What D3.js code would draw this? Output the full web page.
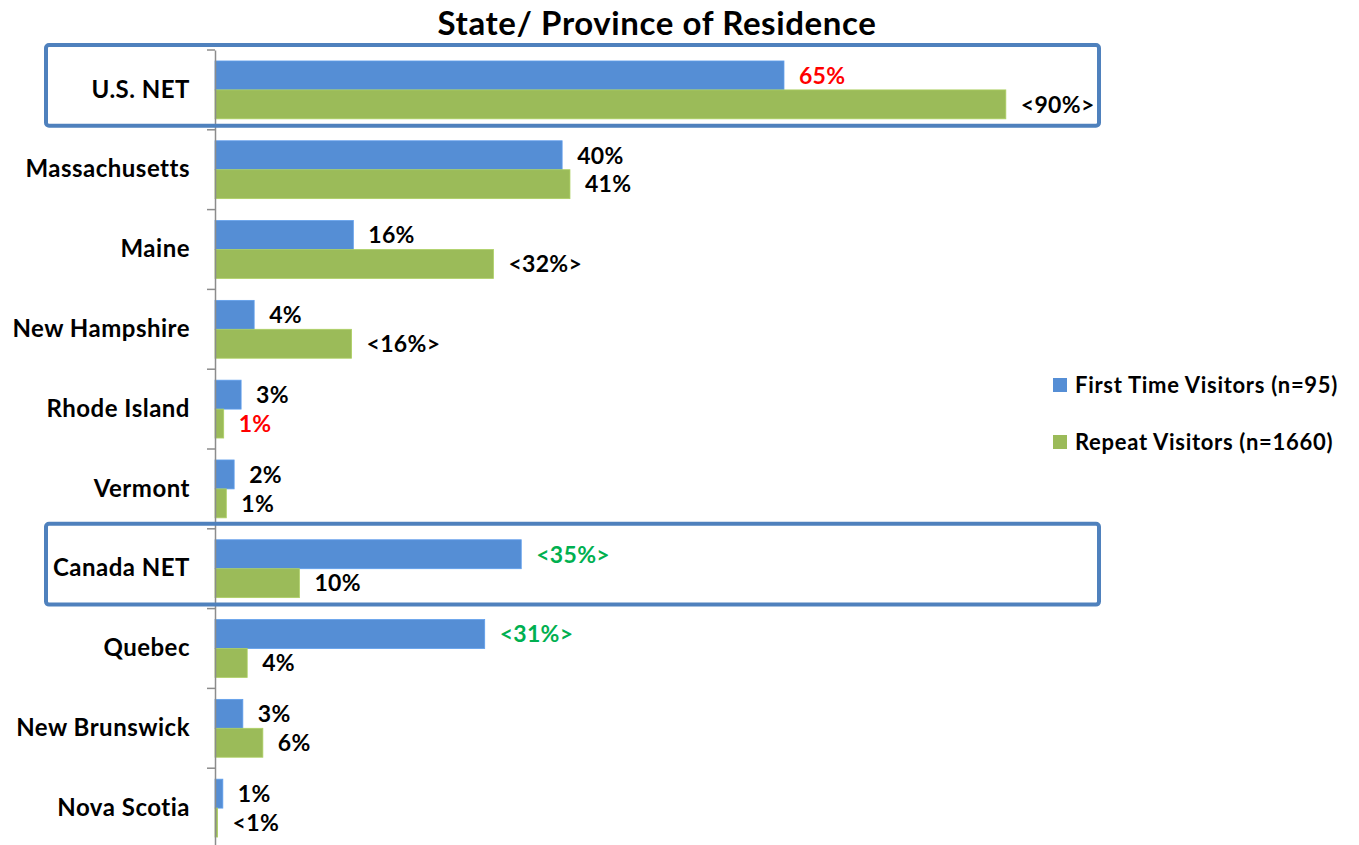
<!DOCTYPE html>
<html>
<head>
<meta charset="utf-8">
<script src="https://cdn.jsdelivr.net/npm/d3@7"></script>
<style>
    body { margin: 0; background: #fff; }
    text { font-family: Lato, "Open Sans", sans-serif; font-weight: bold; fill: #000; }
</style>
</head>
<body>
<script>
//Chart data
var categories = ['U.S. NET', 'Massachusetts', 'Maine', 'New Hampshire', 'Rhode Island',
    'Vermont', 'Canada NET', 'Quebec', 'New Brunswick', 'Nova Scotia'];
var firstTime = [65.4, 39.9, 15.9, 4.5, 3.0, 2.2, 35.2, 31.0, 3.2, 0.9];
var repeat = [90.9, 40.8, 32.0, 15.7, 1.0, 1.3, 9.7, 3.7, 5.5, 0.3];
var firstLabels = ['65%', '40%', '16%', '4%', '3%', '2%', '<35%>', '<31%>', '3%', '1%'];
var repeatLabels = ['<90%>', '41%', '<32%>', '<16%>', '1%', '1%', '10%', '4%', '6%', '<1%'];
//Significance flags: 'low' = significantly lower, 'high' = significantly higher
var firstFlags = ['low', '', '', '', '', '', 'high', 'high', '', ''];
var repeatFlags = ['', '', '', '', 'low', '', '', '', '', ''];
var netRows = ['U.S. NET', 'Canada NET'];
var seriesNames = ['First Time Visitors (n=95)', 'Repeat Visitors (n=1660)'];

function setChart(){
    var width = 1359,
        height = 845;
    var colors = ['#558ed5', '#9bbb59'];
    var flagColors = {low: '#ff0000', high: '#00b050', '': '#000'};

    var svg = d3.select('body')
        .append('svg')
        .attr('width', width)
        .attr('height', height);

    //Title
    svg.append('text')
        .attr('x', 657)
        .attr('y', 35)
        .attr('text-anchor', 'middle')
        .style('font-size', '33px')
        .style('letter-spacing', '0.6px')
        .text('State/ Province of Residence');

    //Scales
    var x = d3.scaleLinear()
        .domain([0, 100])
        .range([215, 1085]);
    var y = d3.scaleBand()
        .domain(categories)
        .range([50, 848])
        .paddingInner(0.275)
        .paddingOuter(0.1375);
    var ySeries = d3.scaleBand()
        .domain([0, 1])
        .range([0, y.bandwidth()]);

    //Build rows from the arrays
    var rows = categories.map(function(c, i){
        return {
            name: c,
            values: [
                {s: 0, v: firstTime[i], label: firstLabels[i], flag: firstFlags[i]},
                {s: 1, v: repeat[i], label: repeatLabels[i], flag: repeatFlags[i]}
            ]
        };
    });

    var groups = svg.selectAll('.row')
        .data(rows)
        .enter()
        .append('g')
        .attr('class', 'row')
        .attr('transform', function(d){ return 'translate(0,' + y(d.name) + ')'; });

    groups.selectAll('rect')
        .data(function(d){ return d.values; })
        .enter()
        .append('rect')
        .attr('x', x(0))
        .attr('y', function(d){ return ySeries(d.s); })
        .attr('width', function(d){ return x(d.v) - x(0); })
        .attr('height', ySeries.bandwidth())
        .attr('fill', function(d){ return colors[d.s]; })
        .attr('stroke', function(d){ return d3.color(colors[d.s]).brighter(0.3); })
        .attr('stroke-width', 0.8);

    groups.selectAll('.val')
        .data(function(d){ return d.values; })
        .enter()
        .append('text')
        .attr('class', 'val')
        .attr('x', function(d){ return x(d.v) + 15; })
        .attr('y', function(d){ return ySeries(d.s) + ySeries.bandwidth() / 2; })
        .attr('dy', '0.36em')
        .style('font-size', '23px')
        .style('letter-spacing', '0.3px')
        .style('fill', function(d){ return flagColors[d.flag]; })
        .text(function(d){ return d.label; });

    //Category axis
    var axis = svg.append('g')
        .attr('transform', 'translate(' + x(0) + ',0)')
        .call(d3.axisLeft(y).tickSize(0).tickPadding(25).tickSizeOuter(0));
    axis.select('.domain')
        .attr('stroke', '#8c8c8c')
        .attr('stroke-width', 1.5);
    axis.selectAll('.tick text')
        .style('font-size', '24px')
        .style('letter-spacing', '0.5px')
        .style('font-family', 'Lato, "Open Sans", sans-serif')
        .style('font-weight', 'bold')
        .attr('fill', '#000');

    //Boundary ticks between categories
    var bounds = d3.range(categories.length + 1).map(function(i){
        return y.range()[0] + i * y.step();
    });
    svg.selectAll('.btick')
        .data(bounds)
        .enter()
        .append('line')
        .attr('class', 'btick')
        .attr('x1', x(0) - 8)
        .attr('x2', x(0))
        .attr('y1', function(d){ return d; })
        .attr('y2', function(d){ return d; })
        .attr('stroke', '#8c8c8c')
        .attr('stroke-width', 1.5);

    //Highlight boxes around NET rows
    var pad = y.step() * y.paddingOuter();
    svg.selectAll('.netbox')
        .data(netRows)
        .enter()
        .append('rect')
        .attr('class', 'netbox')
        .attr('x', 46)
        .attr('y', function(d){ return y(d) - pad - 5; })
        .attr('width', 1099 - 46)
        .attr('height', y.step() + 1)
        .attr('rx', 3)
        .attr('fill', 'none')
        .attr('stroke', '#4f81bd')
        .attr('stroke-width', 4);

    //Legend
    var legend = svg.selectAll('.legend')
        .data(seriesNames)
        .enter()
        .append('g')
        .attr('class', 'legend')
        .attr('transform', function(d, i){ return 'translate(1053,' + (385 + i * 57) + ')'; });
    legend.append('rect')
        .attr('x', 0)
        .attr('y', -7)
        .attr('width', 14)
        .attr('height', 14)
        .attr('fill', function(d, i){ return colors[i]; });
    legend.append('text')
        .attr('x', 22)
        .attr('y', 0)
        .attr('dy', '0.36em')
        .style('font-size', '22px')
        .style('letter-spacing', '0.7px')
        .text(function(d){ return d; });
}

window.onload = setChart();
</script>
</body>
</html>
